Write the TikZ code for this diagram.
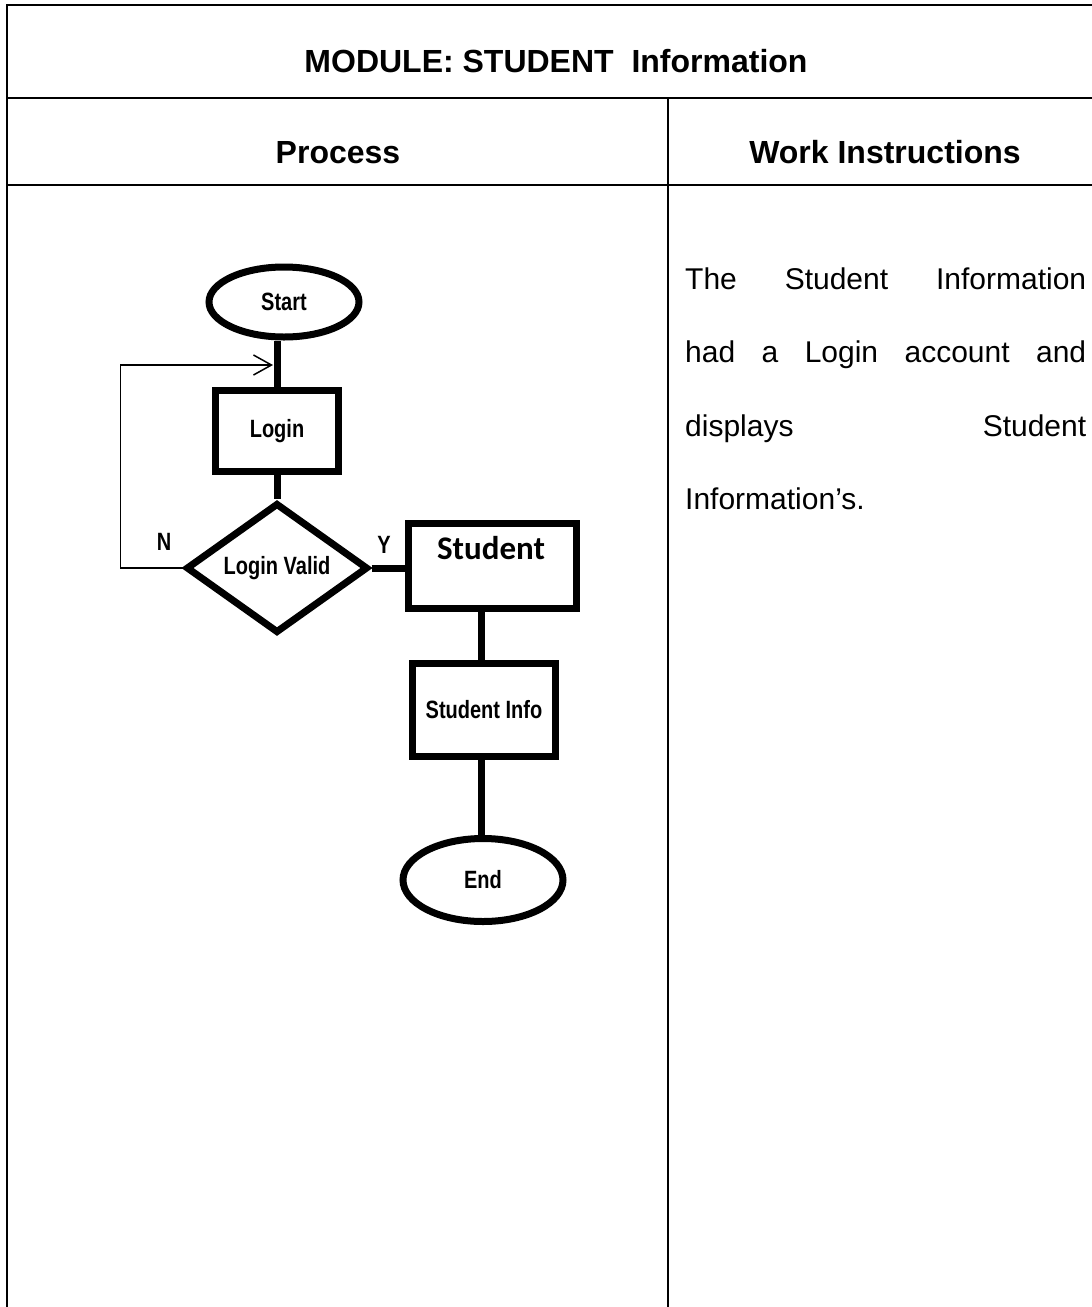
\documentclass[tikz,border=0pt]{standalone}
\usepackage{fontspec}
\usepackage{graphicx}
\setmainfont{Liberation Sans}
\newfontfamily\stufont{Carlito}
\usetikzlibrary{shapes.geometric,arrows.meta}
\newcommand\narrowtxt[1]{\scalebox{0.8}[1]{#1}}
\begin{document}
\begin{tikzpicture}[x=1pt,y=-1pt,
  grid/.style={line width=2.5pt},
  headtxt/.style={font=\fontsize{32}{38}\selectfont\bfseries, inner sep=0pt, anchor=base},
  bodytxt/.style={font=\fontsize{30}{36}\selectfont, inner sep=0pt, anchor=base west},
  flow/.style={draw, line width=7pt, inner sep=0pt, font=\fontsize{25}{30}\selectfont\bfseries},
  term/.style={flow, ellipse},
  proc/.style={flow, rectangle},
  cond/.style={flow, diamond},
  link/.style={line width=7pt},
  back/.style={line width=1.5pt, -{Straight Barb[length=18pt,width=20pt,line width=1.5pt]}},
  yn/.style={font=\fontsize{25}{30}\selectfont\bfseries, inner sep=0pt}]
\useasboundingbox (0,0) rectangle (1092,1307);
% table
\draw[grid] (1092,5) -- (7,5) -- (7,1307);
\draw[grid] (7,98) -- (1092,98);
\draw[grid] (7,185) -- (1092,185);
\draw[grid] (668,98) -- (668,1307);
\node[headtxt] (title) at (556,72.5) {MODULE: STUDENT\ \ Information};
\node[headtxt] (hproc) at (338,163) {Process};
\node[headtxt] (hwork) at (885,163) {Work Instructions};
% body text
\node[bodytxt] (l1) at (685,289) {\makebox[401pt][l]{The\hfill Student\hfill Information}};
\node[bodytxt] (l2) at (685,362.5) {\makebox[401pt][l]{had\hfill a\hfill Login\hfill account\hfill and}};
\node[bodytxt] (l3) at (685,436) {\makebox[401pt][l]{displays\hfill Student}};
\node[bodytxt] (l4) at (685,509.5) {Information’s.};
% flowchart
\node[term, minimum width=150pt, minimum height=70pt] (start) at (284,302) {\narrowtxt{Start}};
\node[proc, minimum width=123pt, minimum height=81pt] (login) at (277,431) {\narrowtxt{Login}};
\node[cond, minimum width=182pt, minimum height=90pt] (valid) at (277,568) {\narrowtxt{Login Valid}};
\node[proc, minimum width=168pt, minimum height=85pt] (student) at (492,566) {};
\node[font=\fontsize{33}{38}\selectfont\bfseries\stufont, inner sep=0pt] (stutxt) at (491,548) {Student};
\node[proc, minimum width=143pt, minimum height=93pt] (info) at (484,710) {\narrowtxt{Student Info}};
\node[term, minimum width=160pt, minimum height=83pt] (end) at (483,880) {\narrowtxt{End}};
\node[yn] (nlab) at (164,542) {\narrowtxt{N}};
\node[yn] (ylab) at (384,545) {\narrowtxt{Y}};
\coordinate (tip) at (273,365);
% connectors
\draw[link] (login.north) -- (login.north |- start.south);
\draw[link] (login.south) -- (valid.north);
\draw[link] (valid.east) -- (valid.east -| student.west);
\draw[link] (info.north -| 481,0) -- (481,0 |- student.south);
\draw[link] (end.north -| 481,0) -- (481,0 |- info.south);
\draw[back] (valid.west) -- ++(-62,0) |- (tip);
\end{tikzpicture}
\end{document}
